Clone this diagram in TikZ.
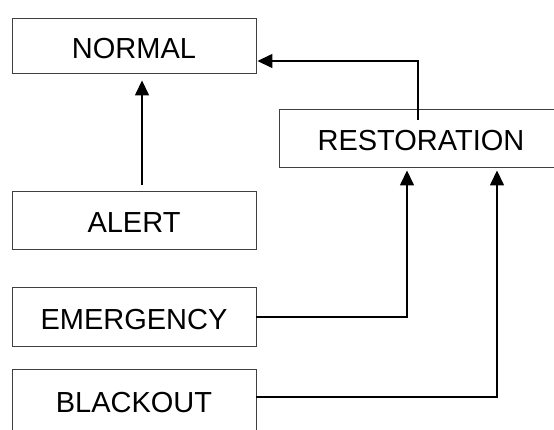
\documentclass[tikz,border=0pt]{standalone}
\usepackage{fontspec}
\setmainfont{Liberation Sans}
\usetikzlibrary{arrows.meta}
\tikzset{
  statebox/.style={draw=black!75, line width=0.9pt, fill=white, minimum width=244pt,
    inner sep=0pt, text height=25.4pt, text depth=0pt,
    font=\fontsize{29}{34}\selectfont, anchor=center},
  conn/.style={draw=black, line width=1.5pt, -{Triangle[width=14pt,length=15pt]}}
}
\begin{document}
\begin{tikzpicture}[x=1pt,y=-1pt]
\useasboundingbox (0,0) rectangle (554,429);
\clip (0,0) rectangle (554,429);
\fill[white] (0,0) rectangle (554,429);
\node[statebox, minimum height=55pt] (NORMAL) at (134,45.5) {NORMAL};
\node[statebox, minimum height=58pt] (ALERT) at (134,220) {ALERT};
\node[statebox, minimum height=59pt] (EMERGENCY) at (134,316.5) {EMERGENCY};
\node[statebox, minimum height=62pt] (BLACKOUT) at (134,400) {BLACKOUT};
\node[statebox, minimum width=284pt, minimum height=58pt] (RESTORATION) at (421,138) {RESTORATION};
\draw[conn, shorten <=6pt, shorten >=7pt] ([xshift=8pt]ALERT.north) -- ([xshift=8pt]NORMAL.south);
\draw[conn] ([xshift=-3pt,yshift=-11pt]RESTORATION.north) |- ([xshift=1pt,yshift=-15.5pt]NORMAL.east);
\draw[conn] ([yshift=-0.5pt]EMERGENCY.east) -| ([xshift=-14pt,yshift=-3pt]RESTORATION.south);
\draw[conn] ([yshift=3pt]BLACKOUT.east) -| ([xshift=76pt,yshift=-3pt]RESTORATION.south);
\end{tikzpicture}
\end{document}
